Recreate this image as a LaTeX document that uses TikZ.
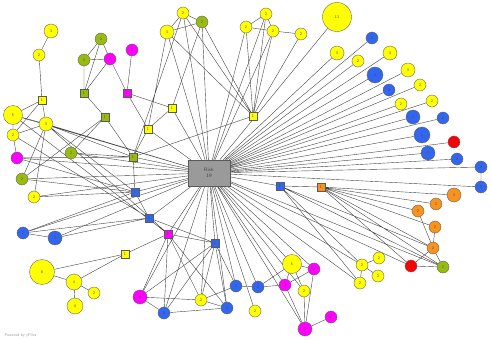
\documentclass[tikz,border=0pt]{standalone}
\usepackage{tikz}
\usetikzlibrary{backgrounds}
\definecolor{Yel}{HTML}{FFFF00}
\definecolor{Grn}{HTML}{99BB11}
\definecolor{Mag}{HTML}{FF00FF}
\definecolor{Blu}{HTML}{3366EE}
\definecolor{Fire}{HTML}{FF0000}
\definecolor{Org}{HTML}{F7931E}
\definecolor{HubGray}{HTML}{9A9A9A}
\definecolor{Edge}{HTML}{444444}
\definecolor{Ink}{HTML}{5A5A5A}
\tikzset{
  circ/.style={circle,draw=Ink,fill=#1,line width=.35pt,inner sep=0pt,font=\sffamily\fontsize{4}{4.5}\selectfont,text=black!70},
  sqr/.style={rectangle,draw=Ink,fill=#1,line width=.35pt,inner sep=0pt,minimum size=8pt,font=\sffamily\fontsize{4}{4.5}\selectfont,text=black!70},
  n2/.style={minimum size=12pt},
  n3/.style={minimum size=14pt},
  n4/.style={minimum size=16pt},
  n5/.style={minimum size=19pt},
  n8/.style={minimum size=25pt},
  n11/.style={minimum size=29pt},
  hubbox/.style={rectangle,draw=Ink,fill=HubGray,line width=.4pt,minimum width=42pt,minimum height=26pt,align=center,font=\sffamily\fontsize{5}{6}\selectfont,text=black!75},
  link/.style={draw=Edge,line width=.4pt}
}
\begin{document}
\begin{tikzpicture}[x=1pt,y=-1pt]
  \useasboundingbox (0,0) rectangle (491,340);
  \node[hubbox] (hub) at (209,173) {Rick\\19};
  % upper left
  \node[circ=Yel,n3] (y3a) at (51,31) {3};
  \node[circ=Yel,n2] (y2a) at (39,55) {2};
  \node[sqr=Yel] (ysqA) at (42,100) {1};
  \node[circ=Yel,n5] (y5a) at (13,115) {5};
  \node[circ=Yel,n3] (y3b) at (46,124) {3};
  \node[circ=Yel,n2] (y2b) at (13,135) {2};
  \node[circ=Mag,n2] (m2a) at (17,158) {2};
  \node[circ=Grn,n2] (g2a) at (101,39) {2};
  \node[circ=Grn,n2] (g2b) at (84,60) {2};
  \node[circ=Mag,n2] (m2b) at (110,59) {2};
  \node[circ=Mag,n2] (m2c) at (132,50) {2};
  \node[sqr=Grn] (gsqA) at (84,93) {1};
  \node[sqr=Mag] (msqA) at (127,93) {1};
  \node[sqr=Grn] (gsqB) at (105,117) {1};
  \node[sqr=Yel] (ysqB) at (148,129) {1};
  \node[sqr=Yel] (ysqC) at (172,108) {1};
  \node[circ=Grn,n2] (g2c) at (71,153) {2};
  \node[sqr=Grn] (gsqC) at (133,157) {1};
  % left
  \node[circ=Grn,n2] (g2d) at (22,179) {2};
  \node[circ=Yel,n2] (y2c) at (34,197) {2};
  \node[sqr=Blu] (bsqA) at (135,192) {1};
  \node[sqr=Blu] (bsqB) at (149,218) {1};
  \node[circ=Blu,n2] (b2a) at (23,233) {2};
  \node[circ=Blu,n3] (b3a) at (55,238) {3};
  \node[sqr=Mag] (msqB) at (168,234) {1};
  \node[sqr=Yel] (ysqD) at (125,254) {1};
  \node[circ=Yel,n8] (y8) at (42,272) {8};
  \node[circ=Yel,n4] (y4a) at (74,282) {4};
  \node[circ=Yel,n2] (y2d) at (94,293) {2};
  \node[circ=Yel,n4] (y4b) at (75,306) {4};
  \node[circ=Mag,n3] (m3a) at (140,297) {3};
  \node[circ=Blu,n2] (b2b) at (164,313) {2};
  \node[sqr=Blu] (bsqC) at (215,243) {1};
  % top
  \node[circ=Yel,n2] (y2e) at (183,13) {2};
  \node[circ=Grn,n2] (g2e) at (202,22) {2};
  \node[circ=Yel,n3] (y3c) at (167,32) {3};
  \node[circ=Yel,n2] (y2f) at (246,27) {2};
  \node[circ=Yel,n2] (y2g) at (266,14) {2};
  \node[circ=Yel,n2] (y2h) at (273,31) {2};
  \node[circ=Yel,n2] (y2i) at (301,34) {2};
  \node[sqr=Yel] (ysqE) at (253,116) {1};
  % right fan
  \node[circ=Yel,n11] (y11) at (337,17) {11};
  \node[circ=Blu,n2] (b2c) at (372,38) {2};
  \node[circ=Yel,n3] (y3d) at (337,53) {3};
  \node[circ=Yel,n2] (y2j) at (358,61) {2};
  \node[circ=Yel,n3] (y3e) at (390,53) {3};
  \node[circ=Blu,n4] (b4a) at (375,75) {4};
  \node[circ=Yel,n3] (y3f) at (408,70) {3};
  \node[circ=Blu,n2] (b2d) at (389,90) {2};
  \node[circ=Yel,n2] (y2k) at (420,85) {2};
  \node[circ=Yel,n2] (y2l) at (401,104) {2};
  \node[circ=Yel,n2] (y2m) at (432,101) {2};
  \node[circ=Blu,n3] (b3b) at (413,117) {3};
  \node[circ=Blu,n2] (b2e) at (443,118) {2};
  \node[circ=Blu,n4] (b4b) at (422,135) {4};
  \node[circ=Fire,n2] (r2a) at (454,142) {2};
  \node[circ=Blu,n3] (b3c) at (428,153) {3};
  \node[circ=Blu,n2] (b2f) at (457,159) {2};
  \node[circ=Blu,n2] (b2g) at (481,167) {2};
  \node[circ=Blu,n2] (b2h) at (481,187) {2};
  % lower right
  \node[sqr=Blu] (bsqD) at (280,186) {1};
  \node[sqr=Org] (osq) at (321,187) {1};
  \node[circ=Org,n3] (o3) at (454,195) {3};
  \node[circ=Org,n2] (o2a) at (436,204) {2};
  \node[circ=Org,n2] (o2b) at (418,211) {2};
  \node[circ=Org,n2] (o2c) at (435,227) {2};
  \node[circ=Org,n2] (o2d) at (433,248) {2};
  \node[circ=Fire,n2] (r2b) at (411,266) {2};
  \node[circ=Grn,n2] (g2f) at (443,267) {2};
  \node[circ=Yel,n2] (y2n) at (379,258) {2};
  \node[circ=Yel,n2] (y2o) at (362,265) {2};
  \node[circ=Yel,n2] (y2p) at (378,276) {2};
  \node[circ=Yel,n2] (y2q) at (360,283) {2};
  % bottom
  \node[circ=Yel,n5] (y5b) at (292,264) {5};
  \node[circ=Mag,n2] (m2d) at (314,269) {2};
  \node[circ=Blu,n2] (b2i) at (236,286) {2};
  \node[circ=Blu,n2] (b2j) at (258,287) {2};
  \node[circ=Mag,n2] (m2e) at (285,285) {2};
  \node[circ=Yel,n2] (y2r) at (304,291) {2};
  \node[circ=Yel,n2] (y2s) at (201,300) {2};
  \node[circ=Blu,n2] (b2k) at (227,308) {2};
  \node[circ=Yel,n2] (y2t) at (255,311) {2};
  \node[circ=Mag,n3] (m3b) at (305,329) {3};
  \node[circ=Mag,n2] (m2f) at (331,317) {2};
  \node[anchor=west,font=\sffamily\fontsize{4}{4.5}\selectfont,text=black!40] (credit) at (1,336) {Powered by yFiles};
  \begin{scope}[on background layer]
    % hub fan
    \draw[link] (hub) -- (y3c) (hub) -- (y2e) (hub) -- (g2e) (hub) -- (y2f) (hub) -- (y2g) (hub) -- (y2h) (hub) -- (y11);
    \draw[link] (hub) -- (b2c) (hub) -- (y3d) (hub) -- (y2j) (hub) -- (y3e) (hub) -- (b4a) (hub) -- (y3f) (hub) -- (b2d);
    \draw[link] (hub) -- (y2k) (hub) -- (y2l) (hub) -- (y2m) (hub) -- (b3b) (hub) -- (b2e) (hub) -- (b4b) (hub) -- (r2a);
    \draw[link] (hub) -- (b3c) (hub) -- (b2f) (hub) -- (b2g) (hub) -- (b2h) (hub) -- (bsqD);
    \draw[link] (hub) -- (y2o) (hub) -- (y2q) (hub) -- (r2b) (hub) -- (g2f) (hub) -- (y5b) (hub) -- (m2d) (hub) -- (y2r);
    \draw[link] (hub) -- (m2e) (hub) -- (m3b) (hub) -- (y2t) (hub) -- (b2j) (hub) -- (b2i) (hub) -- (b2k) (hub) -- (y2s);
    \draw[link] (hub) -- (b2b) (hub) -- (m3a) (hub) -- (bsqC) (hub) -- (msqB) (hub) -- (bsqB) (hub) -- (bsqA);
    \draw[link] (hub) -- (gsqC) (hub) -- (y2c) (hub) -- (g2d) (hub) -- (b3a) (hub) -- (b2a) (hub) -- (y3b) (hub) -- (y5a);
    \draw[link] (hub) -- (g2c) (hub) -- (m2a) (hub) -- (ysqB) (hub) -- (ysqC);
    % upper left groups
    \draw[link] (y3a) -- (y2a) -- (ysqA) (ysqA) -- (y5a) (ysqA) -- (y3b) (ysqA) -- (y2b);
    \draw[link] (y5a) -- (y3b) (y5a) -- (y2b) (y3b) -- (y2b) -- (m2a);
    \draw[link] (g2a) -- (g2b) -- (m2b) -- (g2a) (g2b) -- (gsqA) (g2a) -- (gsqA) (m2b) -- (gsqA);
    \draw[link] (gsqA) -- (gsqB) -- (gsqC) (gsqB) -- (g2c) (gsqB) -- (g2d) (m2b) -- (msqA) (m2c) -- (msqA);
    \draw[link] (msqA) -- (ysqB) (msqA) -- (ysqC) (ysqC) -- (ysqB) (ysqB) -- (gsqC) (gsqC) -- (bsqA);
    \draw[link] (y3b) -- (gsqC) (y3b) -- (bsqA) (y3b) -- (msqB) (y5a) -- (msqB) (y2b) -- (bsqB);
    \draw[link] (g2c) -- (gsqC) (m2a) -- (gsqC) (m2a) -- (bsqA);
    % top groups
    \draw[link] (y2e) -- (y3c) -- (g2e) -- (y2e) (y2e) -- (ysqE) (y3c) -- (ysqE) (g2e) -- (ysqE);
    \draw[link] (y3c) -- (ysqB) (y2e) -- (gsqC) (g2e) -- (ysqC);
    \draw[link] (y2f) -- (y2g) -- (y2h) -- (y2f) (y2h) -- (y2i);
    \draw[link] (y2f) -- (ysqE) (y2g) -- (ysqE) (y2h) -- (ysqE) (y2i) -- (ysqE) (ysqE) -- (gsqC);
    % left middle
    \draw[link] (g2d) -- (y3b) (g2d) -- (bsqA) (y2c) -- (y3b) (y2c) -- (bsqA);
    \draw[link] (b2a) -- (b3a) (b2a) -- (bsqB) (b2a) -- (bsqA) (b3a) -- (bsqB);
    \draw[link] (bsqA) -- (bsqB) -- (bsqC) (msqB) -- (bsqC) (msqB) -- (ysqD);
    \draw[link] (ysqD) -- (y8) (ysqD) -- (y4a) (y8) -- (y4a) (y4a) -- (y2d) (y4a) -- (y4b);
    % bottom
    \draw[link] (msqB) -- (m3a) (msqB) -- (b2b) (msqB) -- (y2s) (msqB) -- (b2k);
    \draw[link] (bsqC) -- (b2i) (bsqC) -- (b2k) (bsqC) -- (y2s) (bsqC) -- (b2b) (bsqC) -- (m3a);
    \draw[link] (m3a) -- (b2b) -- (b2k) -- (y2s) -- (m3a) (y2s) -- (b2i) -- (b2j);
    \draw[link] (b2j) -- (y5b) (b2j) -- (m2e) (y5b) -- (m2d) (y5b) -- (m2e) (y5b) -- (y2r);
    \draw[link] (m2e) -- (m3b) (y2r) -- (m3b) (m2d) -- (m3b) (m3b) -- (m2f) (m2d) -- (m2e);
    % lower right
    \draw[link] (bsqD) -- (osq) (osq) -- (o3) (osq) -- (o2a) (osq) -- (o2b) (osq) -- (o2c) (osq) -- (o2d);
    \draw[link] (osq) -- (r2b) (osq) -- (g2f) (bsqD) -- (o2d) (bsqD) -- (g2f) (bsqD) -- (y2o) (bsqD) -- (y2q);
    \draw[link] (o2b) -- (o2d) (o2c) -- (o2d) (o2d) -- (g2f) (r2b) -- (g2f) (o2d) -- (r2b);
    \draw[link] (y2o) -- (y2n) (y2o) -- (y2p) (y2o) -- (y2q) (b2g) -- (b2h);
  \end{scope}
\end{tikzpicture}
\end{document}
